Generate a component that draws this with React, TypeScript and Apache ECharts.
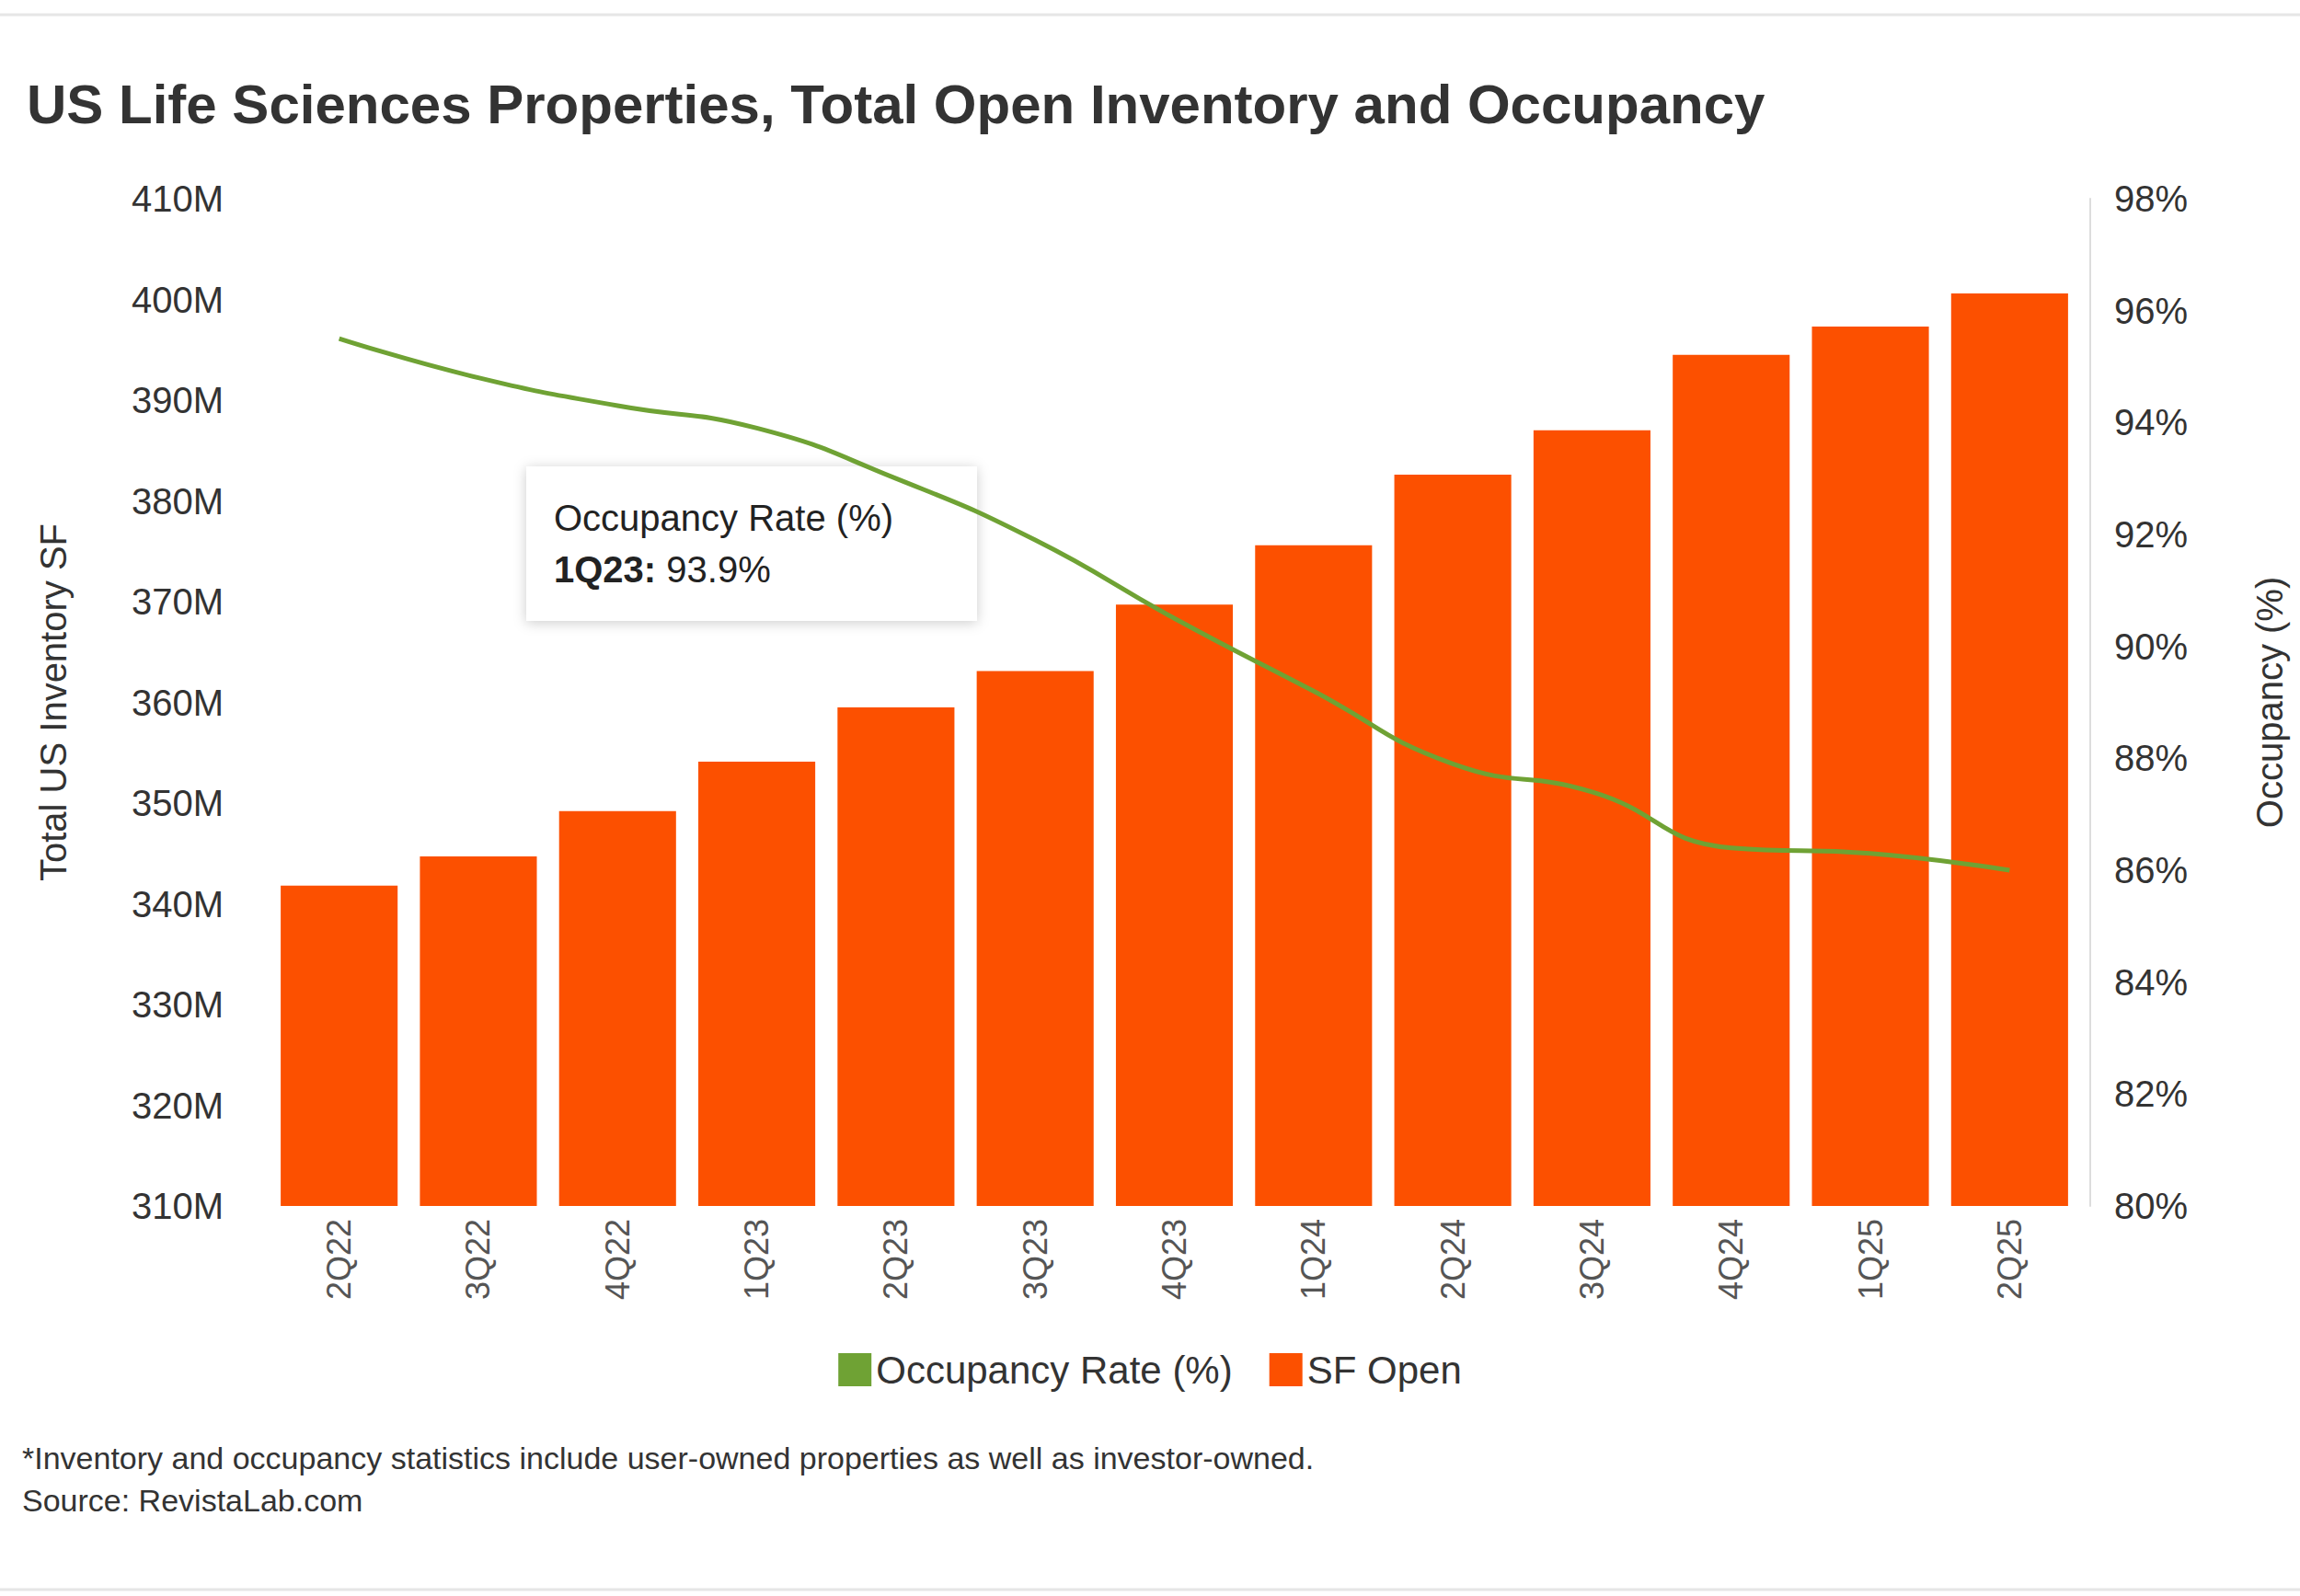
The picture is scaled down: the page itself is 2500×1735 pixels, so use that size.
import { useEffect, useRef } from "react";
import * as echarts from "echarts";

const quarters = ["2Q22", "3Q22", "4Q22", "1Q23", "2Q23", "3Q23", "4Q23", "1Q24", "2Q24", "3Q24", "4Q24", "1Q25", "2Q25"];
const sfOpen = [341.8, 344.7, 349.2, 354.1, 359.5, 363.1, 369.7, 375.6, 382.6, 387.0, 394.5, 397.3, 400.6];
const occupancy = [95.5, 94.8, 94.3, 93.9, 93.0, 91.9, 90.5, 89.2, 87.9, 87.4, 86.4, 86.3, 86];

const FONT = "Helvetica, Arial, 'Liberation Sans', sans-serif";

export default function App() {
  const ref = useRef<HTMLDivElement>(null);

  useEffect(() => {
    document.body.style.margin = "0";
    const el = ref.current;
    if (!el) return;
    const chart = echarts.init(el, undefined, { renderer: "svg" });
    chart.setOption({
      animation: false,
      backgroundColor: "#fff",
      textStyle: { fontFamily: FONT },
      title: {
        text: "US Life Sciences Properties, Total Open Inventory and Occupancy",
        left: 24,
        top: 78,
        textStyle: { fontSize: 60, fontWeight: "bold", color: "#333", fontFamily: FONT },
      },
      grid: { left: 293, right: 240, top: 216, bottom: 424 },
      legend: {
        bottom: 220,
        left: "center",
        itemWidth: 36,
        itemHeight: 36,
        itemGap: 40,
        icon: "rect",
        textStyle: { fontSize: 42, color: "#333", fontFamily: FONT },
        data: ["Occupancy Rate (%)", "SF Open"],
      },
      xAxis: {
        type: "category",
        data: quarters,
        axisTick: { show: false },
        axisLine: { show: false },
        axisLabel: { rotate: 90, fontSize: 36, color: "#555", margin: 14 },
      },
      yAxis: [
        {
          type: "value",
          min: 310,
          max: 410,
          interval: 10,
          name: "Total US Inventory SF",
          nameLocation: "middle",
          nameGap: 215,
          nameTextStyle: { fontSize: 40, color: "#333" },
          axisLabel: { formatter: "{value}M", fontSize: 40, color: "#333", margin: 50 },
          splitLine: { show: false },
          axisLine: { show: false },
          axisTick: { show: false },
        },
        {
          type: "value",
          min: 80,
          max: 98,
          interval: 2,
          name: "Occupancy (%)",
          nameLocation: "middle",
          nameGap: 175,
          nameRotate: 90,
          nameTextStyle: { fontSize: 40, color: "#333" },
          axisLabel: { formatter: "{value}%", fontSize: 40, color: "#333", margin: 26 },
          splitLine: { show: false },
          axisLine: { show: true, lineStyle: { color: "#ddd", width: 2 } },
          axisTick: { show: false },
          offset: 12,
        },
      ],
      series: [
        {
          name: "SF Open",
          type: "bar",
          data: sfOpen,
          yAxisIndex: 0,
          barCategoryGap: "16%",
          itemStyle: { color: "#fc5000" },
        },
        {
          name: "Occupancy Rate (%)",
          type: "line",
          data: occupancy,
          yAxisIndex: 1,
          smooth: true,
          symbol: "none",
          lineStyle: { color: "#6fa234", width: 5 },
          itemStyle: { color: "#6fa234" },
          label: {
            show: true,
            position: "bottom",
            distance: 6,
            formatter: "{c}%",
            fontSize: 42,
            fontWeight: "bold",
            color: "#111",
          },
          z: 3,
        },
      ],
      graphic: [
        { type: "line", shape: { x1: 0, y1: 16, x2: 2500, y2: 16 }, style: { stroke: "#e6e6e6", lineWidth: 3 } },
        { type: "line", shape: { x1: 0, y1: 1728, x2: 2500, y2: 1728 }, style: { stroke: "#e6e6e6", lineWidth: 3 } },
        {
          type: "text",
          left: 24,
          top: 1562,
          style: {
            text: "*Inventory and occupancy statistics include user-owned properties as well as investor-owned.\nSource: RevistaLab.com",
            fontSize: 34,
            lineHeight: 46,
            fill: "#333",
            fontFamily: FONT,
          },
        },
        {
          type: "group",
          left: 572,
          top: 507,
          z: 100,
          children: [
            {
              type: "rect",
              shape: { x: 0, y: 0, width: 490, height: 168 },
              style: { fill: "#fff", shadowBlur: 14, shadowColor: "rgba(0,0,0,0.2)", shadowOffsetY: 2 },
            },
            {
              type: "text",
              x: 30,
              y: 36,
              style: { text: "Occupancy Rate (%)", fontSize: 40, fill: "#222", fontFamily: FONT },
            },
            {
              type: "text",
              x: 30,
              y: 92,
              style: {
                text: "{b|1Q23:} 93.9%",
                fontSize: 40,
                fill: "#222",
                fontFamily: FONT,
                rich: { b: { fontWeight: "bold", fontSize: 40, fontFamily: FONT, fill: "#222" } },
              },
            },
          ],
        },
      ],
    });
    return () => chart.dispose();
  }, []);

  return <div ref={ref} style={{ width: 2500, height: 1735 }} />;
}
